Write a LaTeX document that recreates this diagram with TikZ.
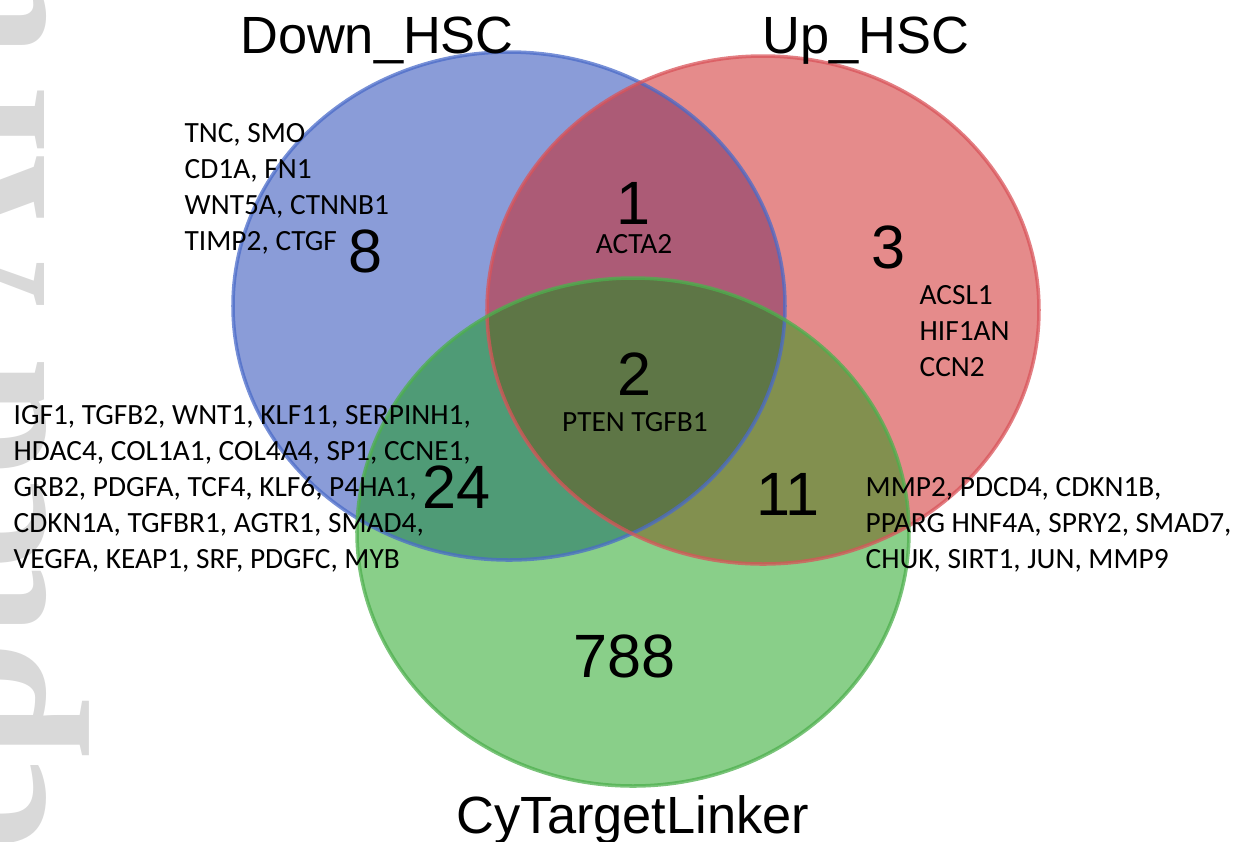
\documentclass[tikz,border=0pt]{standalone}
\usepackage{fontspec}
\usepackage{tikz}
\newfontfamily\setfont{Liberation Sans}
\newfontfamily\genefont{Carlito}
\newfontfamily\markfont{Liberation Serif}

\definecolor{downfill}{HTML}{8A9CD8}
\definecolor{upfill}{HTML}{E58B8B}
\definecolor{cyfill}{HTML}{89CF89}
\definecolor{downupfill}{HTML}{AC5B76}
\definecolor{downcyfill}{HTML}{4F9B76}
\definecolor{upcyfill}{HTML}{82904F}
\definecolor{allfill}{HTML}{5E7646}
\definecolor{downline}{HTML}{4A6BC9}
\definecolor{upline}{HTML}{D9545A}
\definecolor{cyline}{HTML}{4DB04D}

\tikzset{
    setsize/.style={x radius=27.6mm, y radius=25.4mm},
    setline/.style={line width=1pt, draw opacity=.75},
    setname/.style={font=\setfont\fontsize{14.9}{17}\selectfont, inner sep=0pt, anchor=base},
    setcount/.style={font=\setfont\fontsize{17.4}{20}\selectfont, inner sep=0pt},
    genes/.style={font=\genefont\fontsize{8.35}{10.2}\selectfont, inner sep=0pt, align=left},
    watermark/.style={font=\markfont\bfseries\fontsize{60}{60}\selectfont, text=black!15, inner sep=0pt, rotate=90, anchor=base west}
}

\begin{document}
\begin{tikzpicture}[x=0.1mm, y=-0.1mm]
    \useasboundingbox (0,0) rectangle (1236,841);
    \clip (0,0) rectangle (1236,841);

    %% Watermark
    \node[watermark] (accepted) at (45,1192) {Accepted Article};

    %% Sets
    \coordinate (down) at (509,306);
    \coordinate (up) at (763,310);
    \coordinate (cy) at (633,532);

    \fill[downfill] (down) ellipse [setsize];
    \fill[upfill] (up) ellipse [setsize];
    \fill[cyfill] (cy) ellipse [setsize];
    \begin{scope}
        \clip (down) ellipse [setsize];
        \fill[downupfill] (up) ellipse [setsize];
        \fill[downcyfill] (cy) ellipse [setsize];
    \end{scope}
    \begin{scope}
        \clip (up) ellipse [setsize];
        \fill[upcyfill] (cy) ellipse [setsize];
    \end{scope}
    \begin{scope}
        \clip (down) ellipse [setsize];
        \clip (up) ellipse [setsize];
        \fill[allfill] (cy) ellipse [setsize];
    \end{scope}
    \draw[setline, downline] (down) ellipse [setsize];
    \draw[setline, upline] (up) ellipse [setsize];
    \draw[setline, cyline] (cy) ellipse [setsize];

    %% Set names
    \node[setname] (downname) at (377,53) {Down\_HSC};
    \node[setname] (upname) at (866,53) {Up\_HSC};
    \node[setname] (cyname) at (633,833) {CyTargetLinker};

    %% Counts
    \node[setcount] (n8) at (366,251) {8};
    \node[setcount] (n1) at (634,203) {1};
    \node[setcount] (n3) at (889,247) {3};
    \node[setcount] (n2) at (635,374) {2};
    \node[setcount] (n24) at (457,487) {24};
    \node[setcount] (n11) at (788,494) {11};
    \node[setcount] (n788) at (625,656) {788};

    %% Genes
    \node[genes, anchor=north west] (downgenes) at (184,123)
        {TNC, SMO\\CD1A, FN1\\WNT5A, CTNNB1\\TIMP2, CTGF};
    \node[genes] (downupgenes) at (634,244) {ACTA2};
    \node[genes, anchor=north west] (upgenes) at (919,285)
        {ACSL1\\HIF1AN\\CCN2};
    \node[genes] (allgenes) at (635,422) {PTEN TGFB1};
    \node[genes, anchor=north west] (downcygenes) at (13,405)
        {IGF1, TGFB2, WNT1, KLF11, SERPINH1,\\
         HDAC4, COL1A1, COL4A4, SP1, CCNE1,\\
         GRB2, PDGFA, TCF4, KLF6, P4HA1,\\
         CDKN1A, TGFBR1, AGTR1, SMAD4,\\
         VEGFA, KEAP1, SRF, PDGFC, MYB};
    \node[genes, anchor=north west] (upcygenes) at (865,477)
        {MMP2, PDCD4, CDKN1B,\\
         PPARG HNF4A, SPRY2, SMAD7,\\
         CHUK, SIRT1, JUN, MMP9};
\end{tikzpicture}
\end{document}
